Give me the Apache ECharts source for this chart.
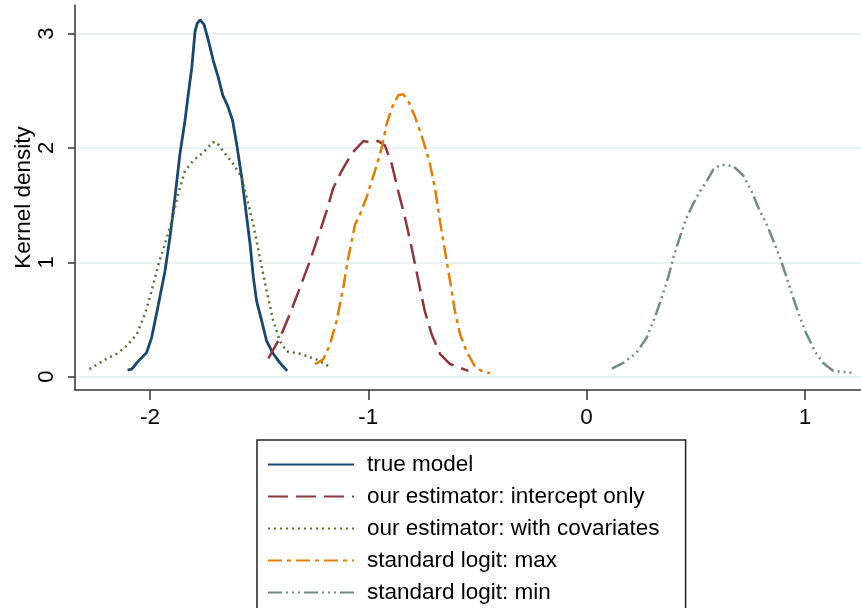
<!DOCTYPE html>
<html>
<head>
<meta charset="utf-8">
<script src="https://cdn.jsdelivr.net/npm/echarts@6/dist/echarts.min.js"></script>
<style>
  html, body { margin: 0; padding: 0; background: #fff; }
  #chart { width: 861px; height: 608px; }
</style>
</head>
<body>
<div id="chart"></div>
<script>
// tick values
var xTicks = [-2, -1, 0, 1];
var yTicks = [0, 1, 2, 3];

var seriesNames = [
    'true model',
    'our estimator: intercept only',
    'our estimator: with covariates',
    'standard logit: max',
    'standard logit: min'
];

// true model
var trueX = [-2.103, -2.084, -2.061, -2.016, -1.993, -1.962, -1.932, -1.909, -1.886, -1.863, -1.840, -1.825, -1.809, -1.794, -1.784, -1.771, -1.753, -1.733, -1.710, -1.688, -1.667, -1.645, -1.622, -1.603, -1.580, -1.561, -1.542, -1.527, -1.512, -1.489, -1.466, -1.436, -1.405, -1.372];
var trueY = [0.056, 0.065, 0.12, 0.21, 0.34, 0.63, 0.92, 1.22, 1.57, 1.95, 2.24, 2.47, 2.70, 3.02, 3.09, 3.12, 3.08, 2.94, 2.76, 2.62, 2.46, 2.37, 2.24, 2.03, 1.74, 1.45, 1.16, 0.87, 0.66, 0.49, 0.31, 0.20, 0.12, 0.05];

// our estimator: intercept only
var interX = [-1.458, -1.405, -1.359, -1.313, -1.268, -1.222, -1.191, -1.161, -1.122, -1.077, -1.023, -0.993, -0.955, -0.924, -0.893, -0.863, -0.832, -0.802, -0.771, -0.741, -0.710, -0.672, -0.626, -0.542];
var interY = [0.16, 0.34, 0.55, 0.78, 1.01, 1.27, 1.45, 1.65, 1.80, 1.95, 2.06, 2.05, 2.06, 2.02, 1.86, 1.62, 1.39, 1.13, 0.84, 0.57, 0.37, 0.20, 0.11, 0.05];

// our estimator: with covariates
var covX = [-2.278, -2.214, -2.153, -2.107, -2.061, -2.023, -1.993, -1.962, -1.932, -1.901, -1.871, -1.840, -1.802, -1.756, -1.713, -1.695, -1.665, -1.619, -1.580, -1.558, -1.527, -1.497, -1.466, -1.436, -1.405, -1.374, -1.313, -1.237, -1.176];
var covY = [0.065, 0.14, 0.20, 0.27, 0.37, 0.55, 0.75, 0.98, 1.16, 1.36, 1.60, 1.80, 1.89, 1.96, 2.05, 2.05, 1.97, 1.86, 1.74, 1.57, 1.33, 1.04, 0.75, 0.49, 0.31, 0.22, 0.20, 0.15, 0.085];

// standard logit: max
var maxX = [-1.245, -1.207, -1.176, -1.145, -1.115, -1.092, -1.061, -1.038, -1.008, -0.970, -0.939, -0.916, -0.893, -0.863, -0.840, -0.817, -0.786, -0.748, -0.718, -0.695, -0.672, -0.649, -0.626, -0.603, -0.580, -0.550, -0.512, -0.481, -0.443];
var maxY = [0.11, 0.15, 0.28, 0.49, 0.78, 1.04, 1.33, 1.42, 1.57, 1.80, 2.00, 2.21, 2.35, 2.46, 2.47, 2.41, 2.27, 2.06, 1.86, 1.65, 1.36, 1.10, 0.84, 0.57, 0.37, 0.22, 0.09, 0.05, 0.03];

// standard logit: min
var minX = [0.115, 0.168, 0.229, 0.275, 0.313, 0.344, 0.374, 0.397, 0.427, 0.458, 0.488, 0.519, 0.550, 0.580, 0.611, 0.641, 0.672, 0.717, 0.756, 0.786, 0.825, 0.855, 0.886, 0.916, 0.946, 0.977, 1.008, 1.046, 1.084, 1.130, 1.183, 1.229];
var minY = [0.07, 0.12, 0.21, 0.34, 0.52, 0.69, 0.87, 1.04, 1.22, 1.39, 1.51, 1.62, 1.71, 1.81, 1.85, 1.85, 1.84, 1.76, 1.62, 1.48, 1.33, 1.19, 1.04, 0.87, 0.69, 0.52, 0.37, 0.22, 0.12, 0.05, 0.04, 0.03];

var pairs = function (xs, ys) {
    return xs.map(function (x, i) { return [x, ys[i]]; });
};

var font = 'Liberation Sans, Arial, sans-serif';
var myChart = echarts.init(document.getElementById('chart'));

var lineSeries = function (name, xs, ys, color, width, dash) {
    return {
        name: name,
        type: 'line',
        data: pairs(xs, ys),
        symbol: 'none',
        showSymbol: false,
        smooth: false,
        lineStyle: { color: color, width: width, type: dash },
        itemStyle: { color: color }
    };
};

var option = {
    backgroundColor: '#fff',
    animation: false,
    grid: { left: 75, right: 0, top: 5, bottom: 218, containLabel: false, outerBoundsMode: 'none' },
    xAxis: {
        type: 'value',
        min: -2.344,
        max: 1.257,
        axisLine: { show: true, onZero: false, lineStyle: { color: '#333', width: 1.5 } },
        axisTick: { show: true, length: 10, customValues: xTicks, lineStyle: { color: '#333', width: 1.5 } },
        axisLabel: { customValues: xTicks, margin: 16, fontSize: 22.5, color: '#000', fontFamily: font },
        splitLine: { show: false }
    },
    yAxis: {
        type: 'value',
        min: -0.117,
        max: 3.25,
        name: 'Kernel density',
        nameLocation: 'middle',
        nameGap: 40,
        nameMoveOverlap: false,
        nameTextStyle: { fontSize: 22.5, color: '#000', fontFamily: font },
        axisLine: { show: true, onZero: false, lineStyle: { color: '#333', width: 1.5 } },
        axisTick: { show: true, length: 7, customValues: yTicks, lineStyle: { color: '#333', width: 1.5 } },
        axisLabel: { customValues: yTicks, rotate: 90, margin: 17, fontSize: 22, color: '#000', fontFamily: font },
        splitLine: { show: true, lineStyle: { color: '#eaf2f3', width: 2 } }
    },
    legend: {
        orient: 'vertical',
        left: 257,
        top: 440,
        height: 400,
        data: seriesNames,
        itemWidth: 86,
        itemHeight: 20,
        itemGap: 9,
        padding: [13, 26, 40, 10],
        borderColor: '#222',
        borderWidth: 1.5,
        itemStyle: { opacity: 0 },
        textStyle: { fontSize: 22.5, lineHeight: 20, color: '#000', fontFamily: font, padding: [0, 0, 0, 8] },
        selectedMode: false
    },
    series: [
        lineSeries(seriesNames[0], trueX, trueY, '#1a476f', 2.8, 'solid'),
        lineSeries(seriesNames[1], interX, interY, '#90353b', 2.5, [20, 8]),
        lineSeries(seriesNames[2], covX, covY, '#55752f', 2.5, [2, 4]),
        lineSeries(seriesNames[3], maxX, maxY, '#e37e00', 2.5, [14, 5, 4, 5]),
        lineSeries(seriesNames[4], minX, minY, '#6e8e84', 2.5, [14, 4, 2, 4, 2, 4, 2, 4])
    ]
};
myChart.setOption(option);
</script>
</body>
</html>
